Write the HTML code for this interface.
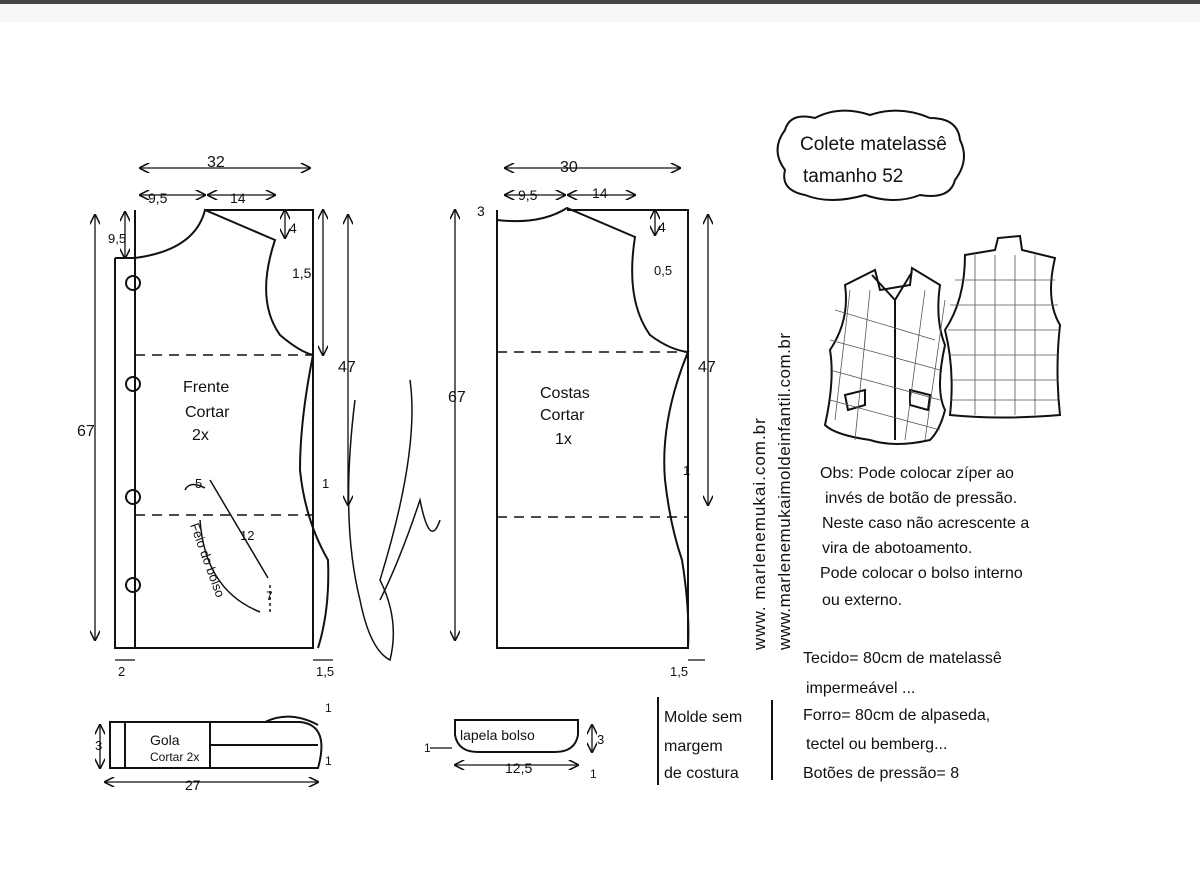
<!DOCTYPE html>
<html><head><meta charset="utf-8"><style>
html,body{margin:0;padding:0;background:#fff}
svg{display:block}
text{font-family:"Liberation Sans",sans-serif;fill:#111}
</style></head><body>
<svg width="1200" height="873" viewBox="0 0 1200 873" xmlns="http://www.w3.org/2000/svg">
<defs>
<marker id="a" viewBox="0 0 10 10" refX="9" refY="5" markerWidth="8" markerHeight="8" orient="auto-start-reverse"><path d="M0 0 L10 5 L0 10" fill="none" stroke="#111" stroke-width="1.5"/></marker>
</defs>
<rect width="1200" height="873" fill="#fff"/>
<rect x="0" y="0" width="1200" height="4" fill="#444"/>
<rect x="0" y="4" width="1200" height="18" fill="#f6f6f6"/>
<g stroke="#111" stroke-width="2" fill="none">
<!-- FRONT -->
<path d="M115 258 L115 648 L313 648 L313 210 L205 210"/>
<line x1="135" y1="210" x2="135" y2="648"/>
<path d="M115 258 L135 258 Q195 250 205 210 L275 240 Q255 300 280 335 Q300 352 313 355 Q300 420 300 470 Q305 520 328 560 Q330 610 318 648"/>
<path d="M135 355 H313 M135 515 H313" stroke-dasharray="10,7" stroke-width="1.5"/>
<circle cx="133" cy="283" r="7"/><circle cx="133" cy="384" r="7"/><circle cx="133" cy="497" r="7"/><circle cx="133" cy="585" r="7"/>
<path d="M185 490 Q190 480 205 488 M210 480 L268 578 M200 520 Q205 590 260 612" stroke-width="1.5"/>
<path d="M270 585 L270 612" stroke-dasharray="3,3" stroke-width="1.5"/>
<!-- BACK -->
<path d="M497 210 L497 648 L688 648 L688 210 L567 210"/>
<path d="M497 220 Q540 225 567 208 L635 237 Q625 300 650 335 Q670 350 688 352 Q660 420 665 480 Q670 525 682 560 Q690 610 688 648"/>
<path d="M497 352 H688 M497 517 H688" stroke-dasharray="10,7" stroke-width="1.5"/>
<!-- dims -->
<g stroke-width="1.3" marker-start="url(#a)" marker-end="url(#a)">
<path d="M140 168 H310"/><path d="M140 195 H205"/><path d="M208 195 H275"/><path d="M95 215 V640"/><path d="M323 210 V355"/><path d="M348 215 V505"/><path d="M125 212 V258"/><path d="M285 210 V238"/>
<path d="M505 168 H680"/><path d="M505 195 H565"/><path d="M568 195 H635"/><path d="M455 210 V640"/><path d="M655 210 V235"/><path d="M708 215 V505"/><path d="M105 782 H318"/><path d="M100 725 V768"/><path d="M455 765 H578"/><path d="M592 725 V752"/>
</g>
<path d="M115 660 H135 M313 660 H333 M688 660 H705 M430 748 H452" stroke-width="1.3"/>
<!-- Gola -->
<path d="M110 722 H300 Q330 725 318 768 H110 Z M125 722 V768 M210 722 V768 M210 745 H318"/>
<path d="M265 722 Q290 710 318 725"/>
<!-- lapela -->
<path d="M455 720 H578 V735 Q575 752 555 752 H478 Q458 752 455 735 Z"/>
<!-- box -->
<path d="M658 697 V785 M772 700 V780"/>
<!-- cloud -->
<path d="M785 130 Q790 112 815 118 Q840 105 870 115 Q900 105 930 118 Q958 118 960 140 Q970 160 955 180 Q950 200 920 195 Q895 205 865 195 Q830 205 805 195 Q780 190 785 170 Q770 150 785 130 Z"/>
<!-- vest 1 -->
<path d="M845 285 L875 270 L880 290 L910 285 L912 268 L940 285 Q935 320 945 345 Q935 390 945 410 Q940 430 930 440 Q895 448 870 440 Q835 435 825 425 Q835 380 830 350 Q850 320 845 285 Z"/>
<path d="M872 275 L895 300 L912 272 M895 300 V440"/>
<path d="M845 395 L865 390 L865 405 L848 410 Z M910 390 L930 395 L928 410 L910 405 Z"/>
<g stroke-width="0.8" stroke="#555">
<path d="M835 310 L935 340 M830 340 L940 370 M830 370 L940 400 M830 400 L940 430 M850 290 L835 420 M870 290 L855 440 M925 290 L905 440 M945 300 L925 440"/>
</g>
<!-- vest 2 -->
<path d="M965 255 L995 250 L998 238 L1020 236 L1022 250 L1055 258 Q1045 300 1060 325 Q1055 370 1060 415 Q1000 420 950 415 Q955 370 945 330 Q965 300 965 255 Z"/>
<g stroke-width="0.8" stroke="#555">
<path d="M955 280 H1055 M950 305 H1058 M948 330 H1058 M950 355 H1058 M950 380 H1058 M950 400 H1058 M975 255 V415 M995 255 V415 M1015 255 V415 M1035 255 V415"/>
</g>
<!-- signature -->
<path d="M355 400 Q340 520 360 600 Q370 650 390 660 Q400 620 380 580 Q420 450 410 380" stroke-width="1.5"/>
<path d="M380 600 Q400 560 420 500 Q430 550 440 520" stroke-width="1.5"/>
</g>
<g font-size="16">
<text x="207" y="167">32</text><text x="560" y="172">30</text>
<text x="148" y="203" font-size="14">9,5</text><text x="230" y="203" font-size="14">14</text>
<text x="518" y="200" font-size="14">9,5</text><text x="592" y="198" font-size="14">14</text>
<text x="108" y="243" font-size="13">9,5</text><text x="289" y="233" font-size="14">4</text><text x="658" y="232" font-size="14">4</text>
<text x="292" y="278" font-size="14">1,5</text><text x="654" y="275" font-size="13">0,5</text><text x="477" y="216" font-size="14">3</text>
<text x="77" y="436">67</text><text x="448" y="402">67</text>
<text x="338" y="372">47</text><text x="698" y="372">47</text>
<text x="183" y="392">Frente</text><text x="185" y="417">Cortar</text><text x="192" y="440">2x</text>
<text x="540" y="398">Costas</text><text x="540" y="420">Cortar</text><text x="555" y="444">1x</text>
<text x="195" y="488" font-size="13">5</text><text x="240" y="540" font-size="13">12</text><text x="266" y="600" font-size="12">7</text>
<text x="190" y="525" font-size="13" transform="rotate(70 190 525)">Feio do bolso</text>
<text x="322" y="488" font-size="13">1</text><text x="683" y="475" font-size="13">1</text>
<text x="118" y="676" font-size="13">2</text><text x="316" y="676" font-size="13">1,5</text><text x="670" y="676" font-size="13">1,5</text>
<text x="150" y="745" font-size="14">Gola</text><text x="150" y="761" font-size="12">Cortar 2x</text>
<text x="95" y="750" font-size="13">3</text><text x="185" y="790" font-size="14">27</text>
<text x="325" y="712" font-size="12">1</text><text x="325" y="765" font-size="12">1</text>
<text x="460" y="740" font-size="14">lapela bolso</text><text x="597" y="744" font-size="13">3</text>
<text x="424" y="752" font-size="12">1</text><text x="505" y="773" font-size="14">12,5</text><text x="590" y="778" font-size="12">1</text>
<text x="664" y="722">Molde sem</text><text x="664" y="751">margem</text><text x="664" y="778">de costura</text>
<text x="800" y="150" font-size="19">Colete matelassê</text><text x="803" y="182" font-size="19">tamanho 52</text>
<text x="765" y="650" transform="rotate(-90 765 650)" font-size="17" letter-spacing="1">www. marlenemukai.com.br</text>
<text x="790" y="650" transform="rotate(-90 790 650)" font-size="17" letter-spacing="0.5">www.marlenemukaimoldeinfantil.com.br</text>
<text x="820" y="478">Obs: Pode colocar zíper ao</text>
<text x="825" y="503">invés de botão de pressão.</text>
<text x="822" y="528">Neste caso não acrescente a</text>
<text x="822" y="553">vira de abotoamento.</text>
<text x="820" y="578">Pode colocar o bolso interno</text>
<text x="822" y="605">ou externo.</text>
<text x="803" y="663">Tecido= 80cm de matelassê</text>
<text x="806" y="693">impermeável ...</text>
<text x="803" y="720">Forro= 80cm de alpaseda,</text>
<text x="806" y="749">tectel ou bemberg...</text>
<text x="803" y="778">Botões de pressão= 8</text>
</g>
</svg>
</body></html>
